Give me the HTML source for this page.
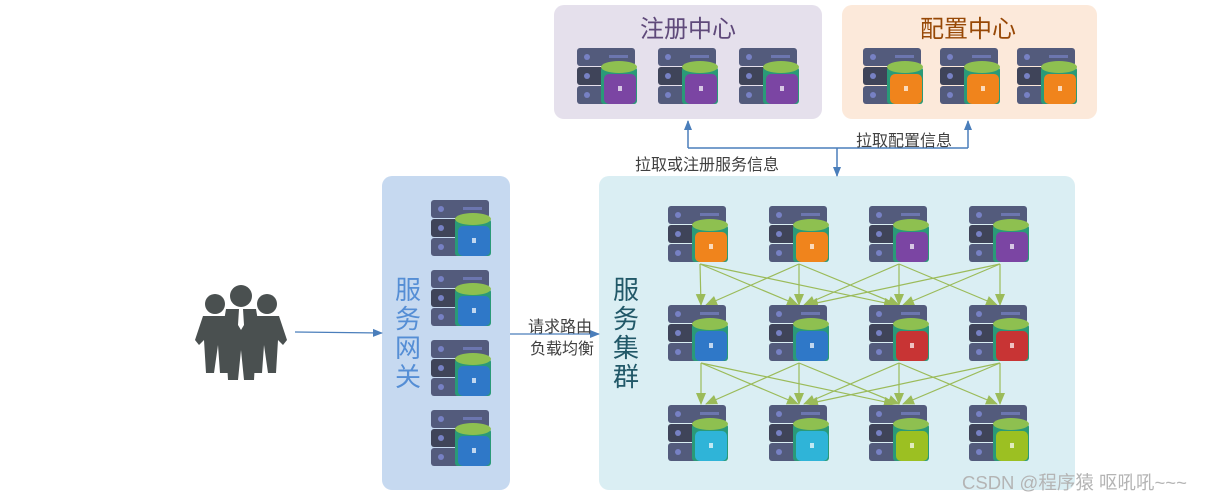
<!DOCTYPE html>
<html><head><meta charset="utf-8"><style>
html,body{margin:0;padding:0;background:#fff;width:1209px;height:501px;overflow:hidden}
text{font-family:"Liberation Sans","Noto Sans CJK SC",sans-serif}
</style></head><body>
<svg width="1209" height="501" viewBox="0 0 1209 501" xmlns="http://www.w3.org/2000/svg">
<defs>
<g id="srv">
  <rect x="0" y="0" width="58" height="18" rx="3" fill="#535b7c"/>
  <rect x="0" y="19" width="58" height="18" rx="3" fill="#3f4459"/>
  <rect x="0" y="38" width="58" height="18" rx="3" fill="#535b7c"/>
  <circle cx="10" cy="9" r="3" fill="#7781c4"/>
  <circle cx="10" cy="28" r="3" fill="#7781c4"/>
  <circle cx="10" cy="47" r="3" fill="#7781c4"/>
  <rect x="32" y="7" width="19" height="3" fill="#7781c4" opacity="0.7"/>
  <rect x="24" y="19" width="36" height="37" rx="3" fill="#2a9a78"/>
  <ellipse cx="42" cy="19" rx="18" ry="6" fill="#8ec050"/>
  <rect x="27" y="26" width="32" height="30" rx="5" fill="currentColor"/>
  <rect x="41" y="38" width="4" height="5" fill="#fff" opacity="0.7"/>
</g>
<marker id="ab" markerWidth="10" markerHeight="10" refX="9" refY="5" orient="auto" markerUnits="userSpaceOnUse"><path d="M0,1 L10,5 L0,9 z" fill="#4a7ebb"/></marker>
<marker id="ag" markerWidth="12" markerHeight="12" refX="11" refY="6" orient="auto" markerUnits="userSpaceOnUse"><path d="M0,1 L12,6 L0,11 z" fill="#9bbb59"/></marker>
</defs>

<rect x="554" y="5" width="268" height="114" rx="10" fill="#e5e0ec"/>
<rect x="842" y="5" width="255" height="114" rx="10" fill="#fce9da"/>
<rect x="382" y="176" width="128" height="314" rx="10" fill="#c6d9f0"/>
<rect x="599" y="176" width="476" height="314" rx="10" fill="#daeef3"/>

<text x="688" y="37" font-size="24" fill="#5f497a" text-anchor="middle">注册中心</text>
<text x="968" y="37" font-size="24" fill="#974806" text-anchor="middle">配置中心</text>

<g color="#7b45a3">
<use href="#srv" x="577" y="48"/><use href="#srv" x="658" y="48"/><use href="#srv" x="739" y="48"/>
</g>
<g color="#f0841c">
<use href="#srv" x="863" y="48"/><use href="#srv" x="940" y="48"/><use href="#srv" x="1017" y="48"/>
</g>

<polyline points="688,148 968,148" fill="none" stroke="#4a7ebb" stroke-width="1.5"/>
<line x1="688" y1="148" x2="688" y2="121" stroke="#4a7ebb" stroke-width="1.5" marker-end="url(#ab)"/>
<line x1="968" y1="148" x2="968" y2="121" stroke="#4a7ebb" stroke-width="1.5" marker-end="url(#ab)"/>
<line x1="837" y1="148" x2="837" y2="176" stroke="#4a7ebb" stroke-width="1.5" marker-end="url(#ab)"/>
<text x="856" y="146" font-size="16" fill="#404040">拉取配置信息</text>
<text x="635" y="170" font-size="16" fill="#404040">拉取或注册服务信息</text>

<g color="#2f78c8">
<use href="#srv" x="431" y="200"/><use href="#srv" x="431" y="270"/><use href="#srv" x="431" y="340"/><use href="#srv" x="431" y="410"/>
</g>
<g font-size="26" fill="#558ed5" text-anchor="middle">
<text x="408" y="299">服</text><text x="408" y="328">务</text><text x="408" y="357">网</text><text x="408" y="386">关</text>
</g>
<g font-size="26" fill="#215868" text-anchor="middle">
<text x="626" y="299">服</text><text x="626" y="328">务</text><text x="626" y="357">集</text><text x="626" y="386">群</text>
</g>

<g stroke="#9bbb59" stroke-width="1.2" fill="none" marker-end="url(#ag)">
<line x1="700" y1="264" x2="701" y2="305"/><line x1="700" y1="264" x2="798" y2="305"/><line x1="700" y1="264" x2="895" y2="305"/>
<line x1="799" y1="264" x2="706" y2="305"/><line x1="799" y1="264" x2="799" y2="305"/><line x1="799" y1="264" x2="899" y2="305"/>
<line x1="899" y1="264" x2="804" y2="305"/><line x1="899" y1="264" x2="899" y2="305"/><line x1="899" y1="264" x2="997" y2="305"/>
<line x1="1000" y1="264" x2="807" y2="305"/><line x1="1000" y1="264" x2="903" y2="305"/><line x1="1000" y1="264" x2="1000" y2="305"/>
<line x1="701" y1="363" x2="701" y2="404"/><line x1="701" y1="363" x2="798" y2="404"/><line x1="701" y1="363" x2="895" y2="404"/>
<line x1="799" y1="363" x2="706" y2="404"/><line x1="799" y1="363" x2="799" y2="404"/><line x1="799" y1="363" x2="899" y2="404"/>
<line x1="899" y1="363" x2="804" y2="404"/><line x1="899" y1="363" x2="899" y2="404"/><line x1="899" y1="363" x2="997" y2="404"/>
<line x1="1000" y1="363" x2="807" y2="404"/><line x1="1000" y1="363" x2="903" y2="404"/><line x1="1000" y1="363" x2="1000" y2="404"/>
</g>

<use href="#srv" x="668" y="206" color="#f0841c"/><use href="#srv" x="769" y="206" color="#f0841c"/>
<use href="#srv" x="869" y="206" color="#7b45a3"/><use href="#srv" x="969" y="206" color="#7b45a3"/>
<use href="#srv" x="668" y="305" color="#2f78c8"/><use href="#srv" x="769" y="305" color="#2f78c8"/>
<use href="#srv" x="869" y="305" color="#c83434"/><use href="#srv" x="969" y="305" color="#c83434"/>
<use href="#srv" x="668" y="405" color="#2fb4d8"/><use href="#srv" x="769" y="405" color="#2fb4d8"/>
<use href="#srv" x="869" y="405" color="#9cc022"/><use href="#srv" x="969" y="405" color="#9cc022"/>

<g fill="#4a5050">
<circle cx="215" cy="304" r="10"/><circle cx="267" cy="304" r="10"/>
<path d="M203,316 L228,316 L232,360 L228,373 L220,373 L218,345 L214,373 L206,373 L204,340 L199,345 L195,340 Z"/>
<path d="M254,316 L279,316 L287,340 L283,345 L278,340 L276,373 L268,373 L264,345 L262,373 L254,373 L250,360 Z"/>
<circle cx="241" cy="296" r="11"/>
<path d="M226,309 L256,309 L262,345 L256,345 L254,380 L244,380 L241,350 L238,380 L228,380 L226,345 L220,345 Z"/>
<path d="M239,309 L243,309 L244,325 L241,330 L238,325 Z" fill="#fff"/>
</g>

<line x1="295" y1="332" x2="382" y2="333" stroke="#4a7ebb" stroke-width="1.2" marker-end="url(#ab)"/>
<line x1="510" y1="334" x2="599" y2="334" stroke="#4a7ebb" stroke-width="1.2" marker-end="url(#ab)"/>
<text x="528" y="332" font-size="16" fill="#404040">请求路由</text>
<text x="530" y="354" font-size="16" fill="#404040">负载均衡</text>

<text x="962" y="489" font-size="18.5" fill="#b4b4b4">CSDN @程序猿 呕吼吼~~~</text>
</svg>
</body></html>
